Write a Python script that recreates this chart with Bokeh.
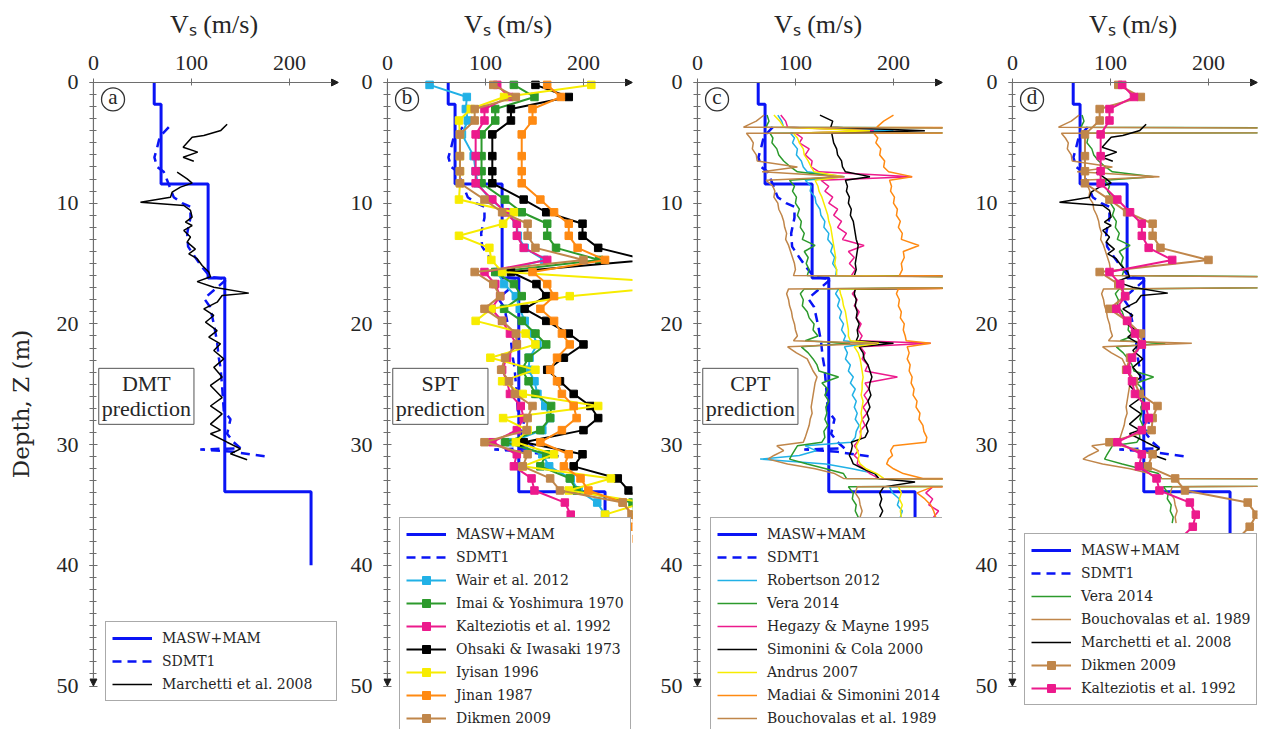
from bokeh.plotting import figure
from bokeh.layouts import row
from bokeh.models import Range1d, FixedTicker, Legend, LegendItem, Label, Arrow, NormalHead
from bokeh.embed import file_html
from bokeh.resources import INLINE

NAN = float("nan")

# ---------------- axes / ticks ----------------
X_MAX = 250
Z_MAX = 50
X_PAD = -4.0           # a few pixels of room left of the depth axis (for its arrow)
Z_PAD = -0.33          # a few pixels of room above the velocity axis (for its arrow)
Z_VIEW = 53.6          # visible depth down to the bottom of the picture
X_TICKS = [0, 100, 200]
Z_TICKS = [0, 10, 20, 30, 40, 50]
Z_MINOR = list(range(0, 51))

# ---------------- reference profiles ----------------
masw_top = [0.0, 1.8, 8.4, 16.2, 33.9]
masw_bottom = [1.8, 8.4, 16.2, 33.9, 40.0]
masw_vs = [62, 69, 117, 134, 222]

sdmt_z = [3.7, 4.5, 5.4, 6.2, 7.0, 7.4, 8.1, 9.5, 10.0, 10.3, 11.2, 12.5, 13.6, 14.5, 15.3, 16.1,
          16.3, 17.9, 18.6, 20.0, 21.4, 22.8, 23.6, 25.2, 27.2, 27.9, 29.1, 29.8, 30.3, 30.4, 30.6, 31.0]
sdmt_vs = [76.9, 67.7, 65, 62.2, 65, 71.7, 75.2, 81.9, 90.5, 99, 99, 95.6, 96.6, 104, 111, 119,
           136, 113, 119, 122.8, 126, 127.9, 129.6, 131.3, 133, 139.8, 136.4, 143, 150, 109, 143, 177]

# ---------------- DMT prediction ----------------
marchetti_z = [3.46, 3.97, 4.39, 4.53, 5.36, 5.77, 6.19, 6.52, NAN,
               7.43, 7.98, 8.34, 8.67, 9.09, 9.5, 9.92, 10.19, 10.6, 11.16, 11.57, 11.85, 12.26, 12.8,
               13.23, 13.8, 14.2, 14.6, 15.16, 15.7, 16.1, 16.5, 16.96, 17.45, 17.65, 18.2, 18.75,
               19.3, 19.86, 20.55, 21.1, 21.65, 22.2, 22.9, 23.6, 24.4, 25.1, 26.1, 26.8, 27.45,
               28.3, 28.8, 29.1, 29.8, 30.35, 30.76, 31.26]
marchetti_vs = [136.4, 130, 112.6, 100.7, 91.5, 106.4, 91.5, 102.4, NAN,
                85.4, 95.6, 100.7, 88.8, 80.3, 78.6, 48, 92.2, 99, 100.7, 93.9, 100.7, 92.2, 99,
                95.6, 104, 97.3, 105.8, 110.9, 117.7, 119.4, 105.8, 122.8, 158.5, 131.3, 126.2, 112.6,
                122.8, 114.3, 126.2, 117.7, 129.6, 122.8, 133, 122.8, 131.3, 119.4, 131.3, 119.4, 131.3,
                119.4, 129.6, 119.4, 136.4, 150, 139.8, 156.8]

# ---------------- SPT prediction ----------------
spt_z = [0.2, 1.2, 2.2, 3.15, 4.3, 6.1, 7.35, 8.35, 9.7, 10.75, 11.7, 12.7, 13.7, 14.7, 15.7, 16.7,
         17.7, 18.75, 19.75, 20.8, 21.7, 22.8, 23.8, 24.75, 25.8, 26.8, 27.8, 28.8, 29.8, 30.8,
         31.8, 32.8, 33.8, 34.8, 35.8, 36.8, 37.8]
wair_vs = [43, 81, 80, 82, 76, 88, 90, 92, 105, 122, 132, 133, 140, 160, 112, 119, 131, 135, 140, 148,
           153, 145, 144, 150, 153, 161, 166, 158, 125, 158, 165, 187, 195, 214, 222, 228, 232]
imai_vs = [129, 150, 110, 110, 96, 96, 96, 96, 120, 137, 163, 163, 172, 216, 110, 129, 137, 119, 137, 151,
           162, 144, 137, 144, 151, 167, 166, 156, 120, 162, 156, 186, 193, 250, 252, 255, 258]
kalteziotis_vs = [112, 124, 99, 99, 90, 90, 90, 90, 107, 120, 132, 132, 139, 163, 99, 110, 115, 106, 117, 125,
                  132, 122, 117, 122, 125, 136, 139, 132, 107, 132, 129, 147, 150, 181, 187, 184, 171]
ohsaki_vs = [151, 185, 126, 126, 107, 107, 107, 107, 139, 162, 199, 199, 215, 265, 126, 152, 162, 140, 162, 185,
             200, 180, 163, 176, 190, 207, 215, 200, 139, 199, 190, 235, 246, 262, 255, 258, 260]
iyisan_vs = [208, 119, 85, 73, 74, 74, 74, 74, 73, 129, 118, 73, 104, 106, 117, 320, 186, 106, 90, 141,
             151, 105, 151, 117, 138, 215, 118, 143, 131, 170, 138, 228, 185, 262, 222, 225, 228]
jinan_vs = [163, 177, 148, 148, 137, 137, 137, 137, 156, 170, 185, 185, 194, 222, 148, 163, 170, 156, 170, 178,
            186, 173, 166, 173, 178, 190, 193, 178, 156, 185, 180, 197, 205, 240, 250, 252, 254]
dikmen_vs = [108, 131, 89, 89, 74, 74, 74, 74, 99, 117, 143, 143, 151, 200, 89, 108, 115, 99, 117, 131,
             132, 120, 116, 124, 130, 148, 143, 142, 99, 143, 138, 166, 176, 240, 249, 242, 230]

# ---------------- CPT prediction ----------------
cpt_z = [2.7, 3.2, 3.7, 4.0, 4.2, 4.6, 5.0, 5.5, 6.0, 6.5,
         7.0, 7.4, 7.8, 8.1, 8.6, 9.0, 9.5, 10.0, 10.5, 11.0,
         11.5, 12.0, 12.5, 13.0, 13.5, 14.0, 14.5, 15.0, 15.5, 16.0,
         16.5, 17.1, 17.5, 18.0, 18.5, 19.0, 19.5, 20.0, 20.5, 21.0,
         21.4, 21.6, 21.9, 22.4, 22.9, 23.4, 23.9, 24.4, 24.9, 25.4,
         25.9, 26.4, 26.9, 27.4, 27.9, 28.4, 28.9, 29.4, 29.8, 30.1,
         30.5, 30.9, 31.2, 31.6, 32.0, 32.4, 32.8, 33.1, 33.5, 34.0,
         34.5, 35.0, 35.5, 36.0, 36.5]
robertson_vs = [82, 86, 88, 200, 95, 99, 97, 102, 101, 106,
                108, 112, 150, 110, 116, 115, 120, 121, 125, 126,
                130, 129, 134, 133, 138, 136, 140, 138, 142, 141,
                1000, 144, 141, 145, 143, 147, 145, 149, 147, 151,
                149, 175, 150, 153, 151, 156, 154, 159, 156, 161,
                158, 162, 160, 163, 161, 165, 162, 161, 157, 110,
                121, 104, 64, 131, 158, 181, 183, 1000, 196, 199,
                206, 204, 209, 207, 211]
vera_vs = [71, 73, 70, 1100, 74, 77, 76, 81, 83, 88,
           95, 102, 144, 94, 99, 97, 101, 100, 104, 102,
           106, 105, 109, 107, 120, 109, 113, 111, 114, 112,
           1000, 109, 105, 108, 107, 112, 114, 119, 118, 123,
           110, 156, 106, 113, 118, 122, 124, 144, 127, 133,
           130, 134, 131, 132, 130, 133, 129, 130, 127, 102,
           99, 96, 94, 112, 131, 149, 152, 1000, 154, 159,
           158, 162, 161, 164, 163]
hegazy_vs = [85, 90, 92, 180, 100, 107, 104, 114, 110, 117,
             116, 124, 219, 126, 134, 130, 138, 134, 143, 139,
             147, 143, 152, 148, 170, 154, 160, 155, 161, 157,
             1000, 162, 158, 163, 160, 165, 162, 167, 164, 168,
             165, 238, 166, 171, 168, 174, 171, 204, 171, 175,
             170, 174, 169, 173, 168, 171, 166, 167, 163, 160,
             164, 160, 164, 163, 170, 176, 185, 1000, 240, 233,
             240, 236, 246, 241, 246]
simonini_vs = [125, 138, 136, 232, 137, 138, 139, 142, 143, 147,
               148, 151, 176, 151, 153, 152, 155, 154, 157, 156,
               159, 160, 161, 162, 164, 163, 162, 161, 162, 160,
               1000, 161, 160, 162, 161, 163, 162, 165, 163, 164,
               162, 200, 165, 169, 170, 174, 176, 178, 176, 175,
               177, 174, 176, 173, 175, 172, 174, 171, 157, 158,
               157, 155, 157, 159, 169, 181, 185, 222, 190, 186,
               188, 186, 189, 186, 188]
andrus_vs = [78, 84, 88, 176, 98, 102, 104, 108, 109, 113,
             116, 119, 149, 120, 123, 124, 127, 129, 131, 133,
             134, 136, 137, 138, 139, 140, 141, 140, 142, 142,
             1000, 145, 146, 148, 149, 151, 152, 153, 154, 154,
             156, 185, 160, 164, 166, 167, 168, 169, 168, 168,
             167, 169, 168, 167, 168, 166, 167, 166, 164, 162,
             163, 165, 164, 166, 172, 183, 190, 1000, 205, 208,
             206, 209, 207, 208, 206]
madiai_vs = [200, 190, 183, 1200, 180, 184, 182, 187, 186, 191,
             190, 195, 219, 196, 198, 197, 201, 200, 204, 203,
             207, 205, 209, 208, 226, 210, 211, 208, 209, 206,
             1000, 205, 203, 206, 205, 208, 207, 211, 210, 212,
             213, 238, 214, 216, 214, 217, 216, 219, 218, 221,
             220, 224, 223, 227, 226, 230, 231, 234, 233, 200,
             197, 199, 195, 193, 200, 210, 230, 1200, 240, 224,
             232, 238, 241, 243, 244]
bouchovalas_vs = [68, 60, 47, 1000, 50, 54, 57, 56, 60, 61,
                  102, 66, 150, 70, 77, 79, 78, 82, 83, 86,
                  88, 89, 91, 90, 93, 95, 97, 99, 100, 98,
                  1000, 93, 91, 93, 94, 96, 97, 99, 100, 102,
                  98, 183, 92, 101, 112, 115, 118, 122, 120, 119,
                  118, 117, 116, 117, 115, 114, 112, 110, 108, 81,
                  88, 78, 72, 92, 120, 140, 149, 1000, 163, 161,
                  165, 166, 168, 166, 167]

# ---------------- styles ----------------
BLUE = "#0a14f5"
CYAN = "#21b1e6"
GREEN = "#2c9a2c"
PINK = "#ec1a8c"
BLACK = "#000000"
YELLOW = "#f7ec00"
ORANGE = "#ff8a12"
BROWN = "#c0864a"
AXIS_COLOR = "#6e6e6e"
ARROW_COLOR = "#1e1e1e"
TEXT = "#262626"
SERIF = "Liberation Serif"
LEG_FONT = "DejaVu Serif"

TAG_X, TAG_Z = 20, 1.4
NOTE_X, NOTE_Z = 54, 26

FRAME_W = 249
FIG_H = 729
TOP = 78


def masw_xy():
    xs, zs = [], []
    for t, b, v in zip(masw_top, masw_bottom, masw_vs):
        xs += [v, v]
        zs += [t, b]
    return xs, zs


def base_fig(left, right, tag, note, ylabel=None):
    p = figure(width=left + FRAME_W + right, height=FIG_H,
               x_range=Range1d(X_PAD, X_MAX), y_range=Range1d(Z_VIEW, Z_PAD),
               x_axis_location="above", output_backend="svg", toolbar_location=None,
               min_border_left=left, min_border_right=right, min_border_top=TOP, min_border_bottom=0)
    p.outline_line_color = None
    p.xgrid.visible = False
    p.ygrid.visible = False
    xa, ya = p.xaxis[0], p.yaxis[0]
    xa.ticker = FixedTicker(ticks=X_TICKS, minor_ticks=[])
    ya.ticker = FixedTicker(ticks=Z_TICKS, minor_ticks=Z_MINOR)
    for ax in (xa, ya):
        ax.axis_line_color = None
        ax.major_tick_line_color = AXIS_COLOR
        ax.minor_tick_line_color = AXIS_COLOR
        ax.major_label_text_font = SERIF
        ax.major_label_text_font_size = "22px"
        ax.major_label_text_color = TEXT
    xa.major_label_standoff = 9
    ya.major_label_standoff = 11
    xa.major_tick_in = 7
    xa.major_tick_out = 0
    ya.major_tick_in = 8
    ya.major_tick_out = 0
    ya.minor_tick_in = 7
    ya.minor_tick_out = 0
    xa.axis_label = "Vₛ (m/s)"
    xa.axis_label_text_font = SERIF
    xa.axis_label_text_font_style = "normal"
    xa.axis_label_text_font_size = "26px"
    xa.axis_label_text_color = TEXT
    xa.axis_label_standoff = 14
    if ylabel:
        ya.axis_label = ylabel
        ya.axis_label_text_font = "DejaVu Serif"
        ya.axis_label_text_font_style = "normal"
        ya.axis_label_text_font_size = "23px"
        ya.axis_label_text_color = TEXT
        ya.axis_label_standoff = 20
    # axis lines with arrow heads
    p.add_layout(Arrow(end=NormalHead(size=7, line_color=ARROW_COLOR, fill_color=ARROW_COLOR, line_width=1),
                       x_start=0, y_start=0, x_end=X_MAX, y_end=0, line_color=AXIS_COLOR,
                       line_width=1.2, level="overlay"))
    p.add_layout(Arrow(end=NormalHead(size=7, line_color=ARROW_COLOR, fill_color=ARROW_COLOR, line_width=1),
                       x_start=0, y_start=0, x_end=0, y_end=Z_MAX, line_color=AXIS_COLOR,
                       line_width=1.2, level="overlay"))
    # panel tag
    p.scatter(x=[TAG_X], y=[TAG_Z], marker="circle", size=23, fill_color="white",
              line_color="#333333", line_width=1.3)
    p.add_layout(Label(x=TAG_X, y=TAG_Z, text=tag, text_font=SERIF, text_font_size="21px",
                       text_color=TEXT, text_align="center", text_baseline="middle", y_offset=2))
    if note:
        p.add_layout(Label(x=NOTE_X, y=NOTE_Z, text=note, text_font=SERIF, text_font_size="22px",
                           text_color=TEXT, text_align="center", text_baseline="middle",
                           text_line_height=1.0, border_line_color="#555555", border_line_width=1,
                           background_fill_color="white", padding=3))
    return p


def add_reference(p):
    mx, mz = masw_xy()
    r1 = p.line(mx, mz, line_color=BLUE, line_width=3)
    r2 = p.line(sdmt_vs, sdmt_z, line_color=BLUE, line_width=2.5, line_dash="9 6")
    return r1, r2


def add_legend(p, items, loc, label_width):
    leg = Legend(items=items, location=loc, orientation="vertical",
                 border_line_color="#555555", border_line_width=1,
                 background_fill_color="white", background_fill_alpha=1.0,
                 label_text_font=LEG_FONT, label_text_font_size="14px", label_text_color=TEXT,
                 glyph_width=40, glyph_height=20, label_height=20, label_width=label_width,
                 label_standoff=10, spacing=3, padding=6, margin=0)
    p.add_layout(leg)


def spt_line(p, vs, z, color):
    a = p.line(vs, z, line_color=color, line_width=2)
    b = p.scatter(vs, z, marker="square", size=7.5, fill_color=color, line_color=color)
    return [a, b]


# ---------------- panel a ----------------
pa = base_fig(89, 5, "a", "DMT\nprediction", ylabel="Depth, Z (m)")
ra1, ra2 = add_reference(pa)
ra3 = pa.line(marchetti_vs, marchetti_z, line_color=BLACK, line_width=1.5)
add_legend(pa, [LegendItem(label="MASW+MAM", renderers=[ra1]),
                LegendItem(label="SDMT1", renderers=[ra2]),
                LegendItem(label="Marchetti et al. 2008", renderers=[ra3])], (16, 28), 168)

# ---------------- panel b ----------------
pb = base_fig(40, 20, "b", "SPT\nprediction")
rb1, rb2 = add_reference(pb)
spt_series = [("Wair et al. 2012", wair_vs, CYAN),
              ("Imai & Yoshimura 1970", imai_vs, GREEN),
              ("Kalteziotis et al. 1992", kalteziotis_vs, PINK),
              ("Ohsaki & Iwasaki 1973", ohsaki_vs, BLACK),
              ("Iyisan 1996", iyisan_vs, YELLOW),
              ("Jinan 1987", jinan_vs, ORANGE),
              ("Dikmen 2009", dikmen_vs, BROWN)]
items_b = [LegendItem(label="MASW+MAM", renderers=[rb1]), LegendItem(label="SDMT1", renderers=[rb2])]
for name, vs, col in spt_series:
    items_b.append(LegendItem(label=name, renderers=spt_line(pb, vs, spt_z, col)))
add_legend(pb, items_b, (16, -6), 168)

# ---------------- panel c ----------------
pc = base_fig(41, 25, "c", "CPT\nprediction")
rc1, rc2 = add_reference(pc)
cpt_series = [("Robertson 2012", robertson_vs, CYAN),
              ("Vera 2014", vera_vs, GREEN),
              ("Hegazy & Mayne 1995", hegazy_vs, PINK),
              ("Simonini & Cola 2000", simonini_vs, BLACK),
              ("Andrus 2007", andrus_vs, YELLOW),
              ("Madiai & Simonini 2014", madiai_vs, ORANGE),
              ("Bouchovalas et al. 1989", bouchovalas_vs, BROWN)]
items_c = [LegendItem(label="MASW+MAM", renderers=[rc1]), LegendItem(label="SDMT1", renderers=[rc2])]
for name, vs, col in cpt_series:
    r = pc.line(vs, cpt_z, line_color=col, line_width=1.5)
    items_c.append(LegendItem(label=name, renderers=[r]))
add_legend(pc, items_c, (17, -6), 167)

# ---------------- panel d ----------------
pd_ = base_fig(41, 20, "d", None)
rd1, rd2 = add_reference(pd_)
rd3 = pd_.line(vera_vs, cpt_z, line_color=GREEN, line_width=1.5)
rd4 = pd_.line(bouchovalas_vs, cpt_z, line_color=BROWN, line_width=1.5)
rd5 = pd_.line(marchetti_vs, marchetti_z, line_color=BLACK, line_width=1.5)
rd6 = spt_line(pd_, dikmen_vs, spt_z, BROWN)
rd7 = spt_line(pd_, kalteziotis_vs, spt_z, PINK)
add_legend(pd_, [LegendItem(label="MASW+MAM", renderers=[rd1]),
                 LegendItem(label="SDMT1", renderers=[rd2]),
                 LegendItem(label="Vera 2014", renderers=[rd3]),
                 LegendItem(label="Bouchovalas et al. 1989", renderers=[rd4]),
                 LegendItem(label="Marchetti et al. 2008", renderers=[rd5]),
                 LegendItem(label="Dikmen 2009", renderers=rd6),
                 LegendItem(label="Kalteziotis et al. 1992", renderers=rd7)], (16, 24), 168)

layout = row(pa, pb, pc, pd_)
open("out.html", "w").write(file_html(layout, INLINE))
